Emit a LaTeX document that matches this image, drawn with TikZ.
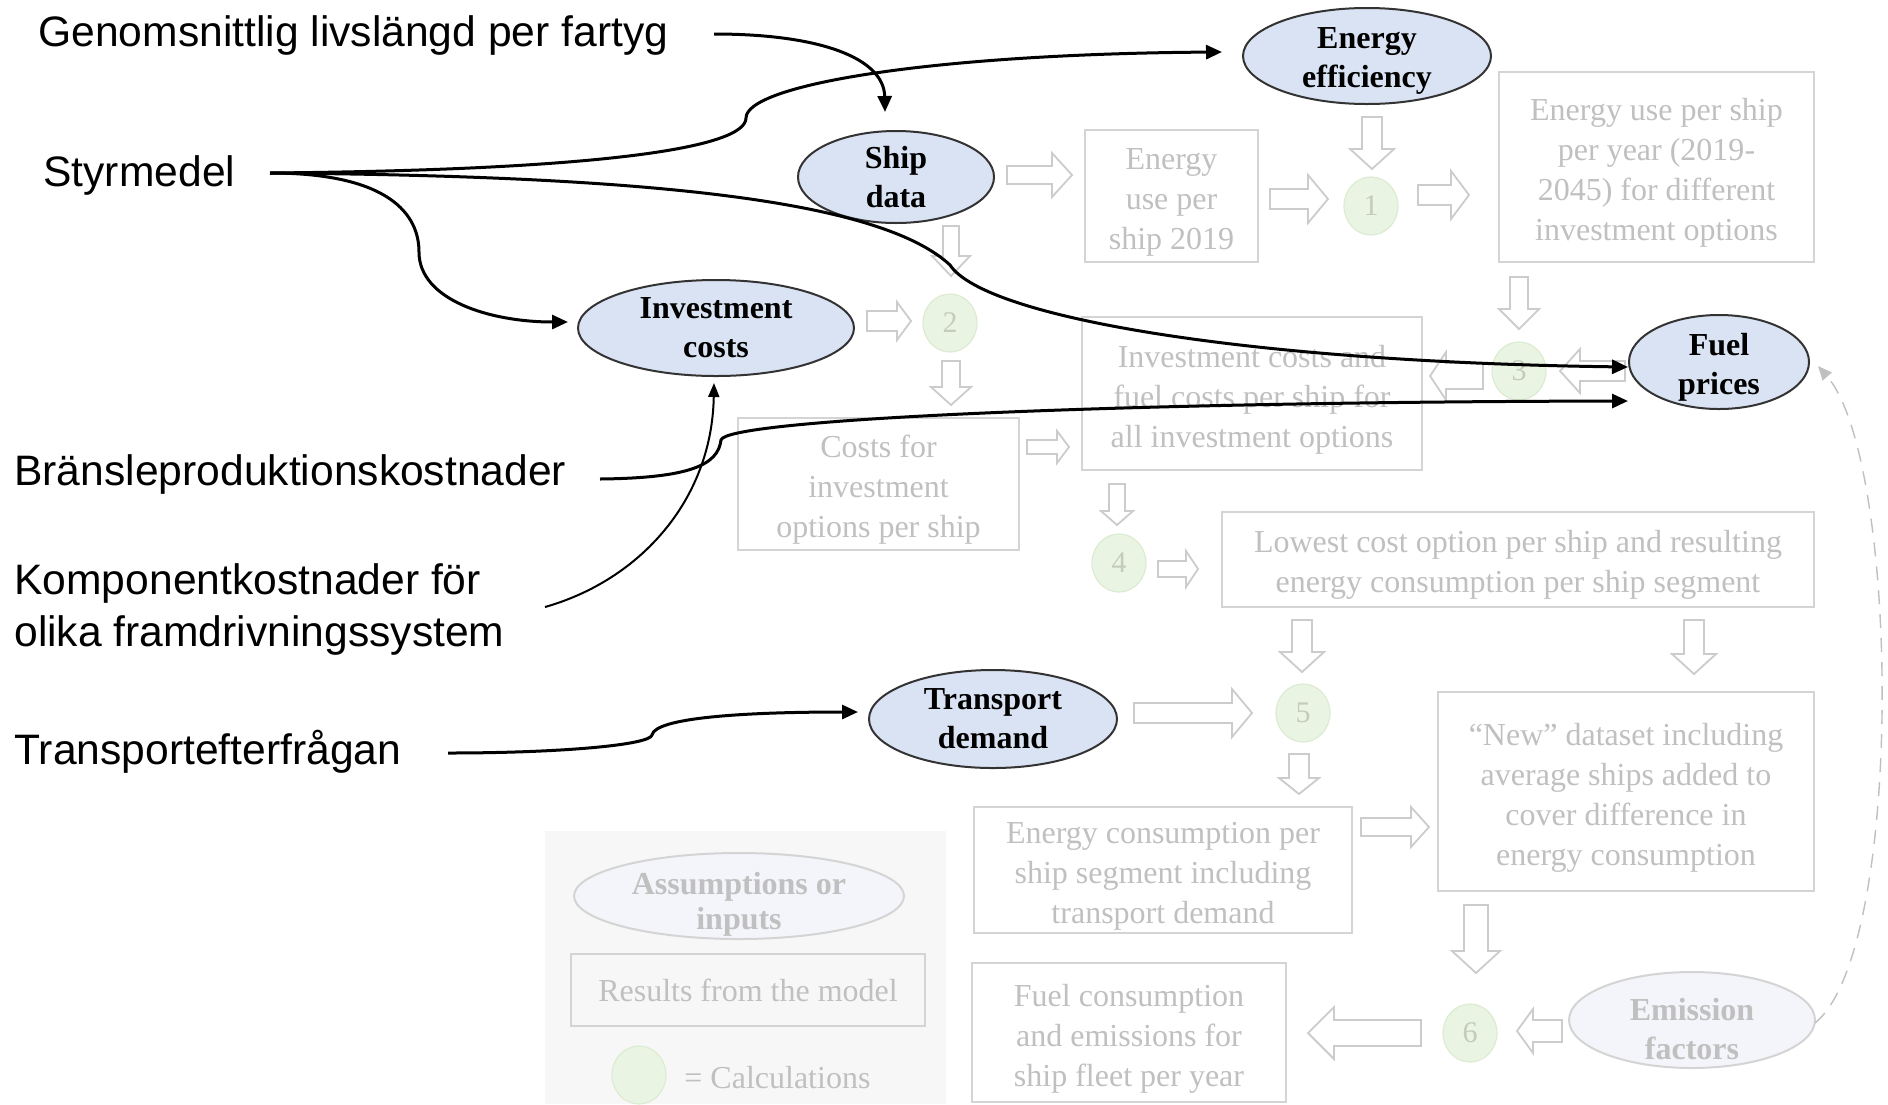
\documentclass[tikz,border=0pt]{standalone}
\usepackage{fontspec}
\setmainfont{Liberation Serif}
\newfontfamily\arialf{Liberation Sans}
\usetikzlibrary{arrows.meta,shapes.geometric}
\definecolor{ellblue}{HTML}{DAE3F3}
\definecolor{ellline}{HTML}{333333}
\definecolor{fadeline}{HTML}{D4D4D4}
\definecolor{fadetext}{HTML}{C0C0C0}
\definecolor{fadeell}{HTML}{F3F5FA}
\definecolor{calcfill}{HTML}{EAF4E3}
\definecolor{calcline}{HTML}{DDEBD3}
\definecolor{calctext}{HTML}{C3CCBC}
\definecolor{arrowline}{HTML}{CCCCCC}
\definecolor{legbg}{HTML}{F7F7F7}
\newcommand\tstrut[1]{\rule{0pt}{#1}}
\tikzset{
  inp/.style={ellipse, draw=ellline, line width=1pt, fill=ellblue, align=center, inner xsep=0pt, inner ysep=-9pt,
    font=\fontsize{16}{19.5}\selectfont\bfseries},
  fadeellipse/.style={ellipse, draw=fadeline, line width=1pt, fill=fadeell, text=fadetext, align=center, inner xsep=0pt, inner ysep=-9pt,
    font=\fontsize{16}{19.5}\selectfont\bfseries},
  resbox/.style={rectangle, draw=fadeline, line width=1pt, text=fadetext, align=center, inner sep=0pt,
    font=\fontsize{16}{20}\selectfont},
  calcnode/.style={ellipse, fill=calcfill, draw=calcline, line width=0.6pt, text=calctext, inner sep=0pt,
    minimum width=27pt, minimum height=29pt, font=\fontsize{15}{18}\selectfont},
  swlabel/.style={anchor=base west, align=left, inner sep=0pt, font=\arialf\fontsize{21.3}{26}\selectfont},
  conn/.style={line width=1.5pt, -{Triangle[length=8pt,width=7pt]}},
  thinconn/.style={line width=1pt, -{Triangle[length=7pt,width=5.5pt]}},
  barrow/.style={draw=arrowline, fill=white, line width=0.9pt, line join=miter},
}
\newcommand\blockarrow[6]{%
  \begin{scope}[shift={#1},rotate=#2]
    \draw[barrow] (0,-#4) -- ({#3-#6},-#4) -- ({#3-#6},-#5) -- (#3,0) -- ({#3-#6},#5) -- ({#3-#6},#4) -- (0,#4) -- cycle;
  \end{scope}}
\begin{document}
\begin{tikzpicture}[x=0.5pt,y=-0.5pt]
\fill[white] (0,0) rectangle (1888,1104);
\useasboundingbox (0,0) rectangle (1888,1104);

% legend background
\fill[legbg] (545,831) rectangle (946,1104);

% Swedish labels
\node[swlabel] (gen) at (38,46) {Genomsnittlig livslängd per fartyg};
\node[swlabel] (sty) at (43,186) {Styrmedel};
\node[swlabel] (bra) at (14,485) {Bränsleproduktionskostnader};
\node[swlabel] (komp) at (14,646) {Komponentkostnader för\\olika framdrivningssystem};
\node[swlabel] (tra) at (14,764) {Transportefterfrågan};

% input ellipses
\node[inp, minimum width=124pt, minimum height=48pt] (ee) at (1367,56) {\tstrut{15pt}Energy\\efficiency};
\node[inp, minimum width=98pt, minimum height=46pt] (sd) at (896,177) {Ship\\data};
\node[inp, minimum width=138pt, minimum height=48pt] (ic) at (716,328) {Investment\\costs};
\node[inp, minimum width=90pt, minimum height=47pt] (fp) at (1719,362) {\tstrut{16pt}Fuel\\prices};
\node[inp, minimum width=124pt, minimum height=49pt] (td) at (993,719) {Transport\\demand};
\node[fadeellipse, minimum width=123pt, minimum height=48pt] (ef) at (1692,1020) {\tstrut{20pt}Emission\\factors};
\node[fadeellipse, minimum width=165pt, minimum height=43pt, font=\fontsize{16}{17.5}\selectfont\bfseries] (legell) at (739,896) {\tstrut{19pt}Assumptions or\\inputs};

% result boxes
\node[resbox, minimum width=86.5pt, minimum height=66pt] (eu19) at (1171.5,196) {\tstrut{17pt}Energy\\use per\\ship 2019};
\node[resbox, minimum width=157.5pt, minimum height=95pt] (euyr) at (1656.5,167) {\tstrut{17pt}Energy use per ship\\per year (2019-\\2045) for different\\investment options};
\node[resbox, minimum width=170pt, minimum height=76.5pt] (ifc) at (1252,393.5) {\tstrut{17pt}Investment costs and\\fuel costs per ship for\\all investment options};
\node[resbox, minimum width=140.5pt, minimum height=66pt] (cio) at (878.5,484) {\tstrut{17pt}Costs for\\investment\\options per ship};
\node[resbox, minimum width=296pt, minimum height=47.5pt] (low) at (1518,559.5) {\tstrut{16pt}Lowest cost option per ship and resulting\\energy consumption per ship segment};
\node[resbox, minimum width=188pt, minimum height=99.5pt] (new) at (1626,791.5) {\tstrut{17pt}``New'' dataset including\\average ships added to\\cover difference in\\energy consumption};
\node[resbox, minimum width=189pt, minimum height=63pt] (ecs) at (1163,870) {\tstrut{17pt}Energy consumption per\\ship segment including\\transport demand};
\node[resbox, minimum width=157pt, minimum height=69.5pt] (fce) at (1129,1032.5) {\tstrut{17pt}Fuel consumption\\and emissions for\\ship fleet per year};
\node[resbox, minimum width=177pt, minimum height=36pt] (legres) at (748,990) {Results from the model};

% calculation circles
\node[calcnode] (c1) at (1371,206) {1};
\node[calcnode] (c2) at (950,323) {2};
\node[calcnode] (c3) at (1519,371) {3};
\node[calcnode] (c4) at (1119,563) {4};
\node[calcnode] (c5) at (1303,713) {5};
\node[calcnode] (c6) at (1470,1033) {6};
\node[calcnode] (legc) at (639,1075) {};
\node[anchor=west, inner sep=0pt, text=fadetext, font=\fontsize{16}{20}\selectfont] (legtxt) at (684,1078) {= Calculations};

% block arrows
\blockarrow{(1007,175)}{0}{65}{9}{22}{20}
\blockarrow{(1270,199)}{0}{58}{10}{24}{20}
\blockarrow{(1418,195)}{0}{51}{10}{24}{18}
\blockarrow{(1372,117)}{-90}{52}{10}{22}{20}
\blockarrow{(951,226)}{-90}{50}{8}{19}{20}
\blockarrow{(867,321)}{0}{44}{10}{19}{14}
\blockarrow{(951,361)}{-90}{44}{9}{20}{18}
\blockarrow{(1027,447)}{0}{42}{7}{16}{12}
\blockarrow{(1519,277)}{-90}{52}{9}{20}{20}
\blockarrow{(1625,371)}{180}{65}{10}{22}{20}
\blockarrow{(1483,376)}{180}{53}{13}{24}{16}
\blockarrow{(1117,484)}{-90}{41}{8}{16}{14}
\blockarrow{(1158,569)}{0}{40}{8}{18}{12}
\blockarrow{(1302,620)}{-90}{52}{10}{22}{20}
\blockarrow{(1694,620)}{-90}{54}{10}{22}{20}
\blockarrow{(1134,713)}{0}{118}{10}{24}{20}
\blockarrow{(1299,754)}{-90}{40}{10}{20}{16}
\blockarrow{(1361,827)}{0}{68}{9}{20}{18}
\blockarrow{(1476,905)}{-90}{68}{12}{24}{22}
\blockarrow{(1562,1031)}{180}{45}{11}{22}{16}
\blockarrow{(1421,1033)}{180}{113}{13}{26}{26}

% dashed feedback
\coordinate (efR) at (1815,1023);
\coordinate (fpR) at (1818,366);
\draw[fadetext, dashed, dash pattern=on 7pt off 5pt, line width=0.7pt, -{Triangle[length=7pt,width=6pt]}]
  (efR) .. controls (1905,950) and (1900,460) .. (fpR);

% connector end points
\coordinate (genS) at (714,34);
\coordinate (styS) at (270,173);
\coordinate (braS) at (600,479);
\coordinate (kompS) at (545,607);
\coordinate (traS) at (448,753);
\coordinate (sdT) at (885,112);
\coordinate (eeT) at (1222,52);
\coordinate (icT) at (568,322);
\coordinate (icB) at (714,383);
\coordinate (fpT1) at (1628,367);
\coordinate (fpT2) at (1628,401);
\coordinate (tdT) at (858,712);

% black connectors
\draw[conn] (genS) .. controls (820,34) and (884,58) .. (sdT);
\draw[conn] (styS) .. controls (600,170) and (746,148) .. (746,118)
  .. controls (746,85) and (930,54) .. (eeT);
\draw[conn] (styS) .. controls (650,176) and (880,200) .. (950,265)
  .. controls (985,318) and (1250,362) .. (fpT1);
\draw[conn] (styS) .. controls (390,173) and (419,215) .. (419,252)
  .. controls (419,300) and (490,322) .. (icT);
\draw[conn] (braS) .. controls (690,478) and (718,465) .. (721,440)
  .. controls (725,420) and (1100,402) .. (fpT2);
\draw[thinconn] (kompS) .. controls (640,580) and (712,500) .. (icB);
\draw[conn] (traS) .. controls (560,753) and (650,745) .. (652,735)
  .. controls (655,718) and (740,712) .. (tdT);
\end{tikzpicture}
\end{document}
